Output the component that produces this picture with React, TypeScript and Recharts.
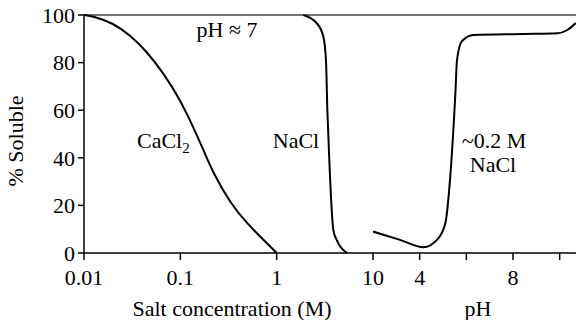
import { LineChart, Line, XAxis, YAxis, ReferenceLine } from "recharts";

const yTicks = [0, 20, 40, 60, 80, 100];
const saltTicks = [0.01, 0.1, 1, 10];
const phTicks = [4, 6, 8, 10];
const phLabelled = [4, 8];

// % soluble vs salt concentration (M), pH ~ 7
const cacl2 = [
  { x: 0.01, y: 100 },
  { x: 0.013, y: 99.3 },
  { x: 0.02, y: 96.6 },
  { x: 0.03, y: 91.6 },
  { x: 0.045, y: 84.6 },
  { x: 0.067, y: 75.5 },
  { x: 0.1, y: 64.3 },
  { x: 0.1375, y: 52.5 },
  { x: 0.175, y: 43 },
  { x: 0.22, y: 33.5 },
  { x: 0.33, y: 21 },
  { x: 0.49, y: 12.5 },
  { x: 0.73, y: 5.5 },
  { x: 1, y: 0 },
];

const nacl = [
  { x: 1.89, y: 100 },
  { x: 2.6, y: 96.6 },
  { x: 3.05, y: 91 },
  { x: 3.25, y: 81 },
  { x: 3.36, y: 60 },
  { x: 3.52, y: 39 },
  { x: 3.73, y: 18 },
  { x: 3.87, y: 9.7 },
  { x: 4.2, y: 5.5 },
  { x: 5.12, y: 0.6 },
  { x: 5.41, y: 0 },
];

// % soluble vs pH, ~0.2 M NaCl
const phCurve = [
  { x: 2, y: 9 },
  { x: 3.16, y: 5.5 },
  { x: 4.16, y: 2.4 },
  { x: 4.74, y: 5.5 },
  { x: 5.1, y: 12.5 },
  { x: 5.31, y: 32 },
  { x: 5.53, y: 67 },
  { x: 5.6, y: 81 },
  { x: 5.81, y: 89 },
  { x: 6.31, y: 91.6 },
  { x: 8.46, y: 92 },
  { x: 9.9, y: 92.3 },
  { x: 10.33, y: 93.7 },
  { x: 10.69, y: 96.6 },
];

const font = "'Liberation Serif', 'Times New Roman', serif";
const fontSize = 22;
const axisLine = { stroke: "#000", strokeWidth: 1.5 };

function XTick(props: any) {
  const { x, y, payload, formatter } = props;
  const label = formatter ? formatter(payload.value) : String(payload.value);
  return (
    <text x={x} y={y} dy="0.71em" textAnchor="middle" fontSize={fontSize} fill="#000" style={{ fontFamily: font }}>
      {label}
    </text>
  );
}

function YTick(props: any) {
  const { x, y, payload } = props;
  return (
    <text x={x} y={y} dy="0.355em" textAnchor="end" fontSize={fontSize} fill="#000" style={{ fontFamily: font }}>
      {payload.value}
    </text>
  );
}

const phFormat = (v: number) => (phLabelled.includes(v) ? String(v) : "");

export default function App() {
  return (
    <div
      style={{
        position: "absolute",
        left: 0,
        top: 0,
        width: 576,
        height: 320,
        background: "#fff",
        fontFamily: font,
      }}
    >
      <div style={{ position: "absolute", left: 0, top: 0 }}>
        <LineChart width={400} height={320} margin={{ top: 15, right: 27, bottom: 0, left: 0 }}>
          <XAxis
            type="number"
            dataKey="x"
            scale="log"
            domain={[0.01, 10]}
            ticks={saltTicks}
            allowDataOverflow
            height={67}
            tickSize={7}
            tickMargin={9}
            tick={<XTick />}
            axisLine={axisLine}
            tickLine={axisLine}
          />
          <YAxis
            domain={[0, 100]}
            ticks={yTicks}
            width={84}
            tickSize={6}
            tickMargin={3}
            tick={<YTick />}
            axisLine={axisLine}
            tickLine={axisLine}
          />
          <ReferenceLine y={100} stroke="#444" strokeWidth={1.5} />
          <Line
            data={cacl2}
            dataKey="y"
            type="basis"
            stroke="#000"
            strokeWidth={2}
            dot={false}
            isAnimationActive={false}
          />
          <Line
            data={nacl}
            dataKey="y"
            type="monotone"
            stroke="#000"
            strokeWidth={2}
            dot={false}
            isAnimationActive={false}
          />
        </LineChart>
      </div>
      <div style={{ position: "absolute", left: 360, top: 0 }}>
        <LineChart width={216} height={320} margin={{ top: 15, right: 0, bottom: 0, left: 13 }}>
          <XAxis
            type="number"
            dataKey="x"
            domain={[2, 10.7]}
            ticks={phTicks}
            allowDataOverflow
            height={67}
            tickSize={7}
            tickMargin={9}
            tick={<XTick formatter={phFormat} />}
            axisLine={axisLine}
            tickLine={axisLine}
          />
          <YAxis
            domain={[0, 100]}
            ticks={yTicks}
            width={0}
            tickSize={8}
            tickFormatter={() => ""}
            axisLine={axisLine}
            tickLine={axisLine}
          />
          <ReferenceLine y={100} stroke="#444" strokeWidth={1.5} />
          <Line
            data={phCurve}
            dataKey="y"
            type="monotone"
            stroke="#000"
            strokeWidth={2}
            dot={false}
            isAnimationActive={false}
          />
        </LineChart>
      </div>
      <svg
        width={576}
        height={320}
        style={{ position: "absolute", left: 0, top: 0, pointerEvents: "none" }}
        fontFamily={font}
        fontSize={fontSize}
        fill="#000"
      >
        <text x={15} y={141} textAnchor="middle" dominantBaseline="central" transform="rotate(-90 15 141)">
          % Soluble
        </text>
        <text x={232} y={316} textAnchor="middle">
          Salt concentration (M)
        </text>
        <text x={478} y={316} textAnchor="middle">
          pH
        </text>
        <text x={227} y={37} textAnchor="middle">
          pH ≈ 7
        </text>
        <text x={137} y={148}>
          CaCl<tspan dy={5} fontSize={15}>2</tspan>
        </text>
        <text x={296} y={148} textAnchor="middle">
          NaCl
        </text>
        <text x={494} y={148} textAnchor="middle">
          ~0.2 M
        </text>
        <text x={493} y={172} textAnchor="middle">
          NaCl
        </text>
      </svg>
    </div>
  );
}
